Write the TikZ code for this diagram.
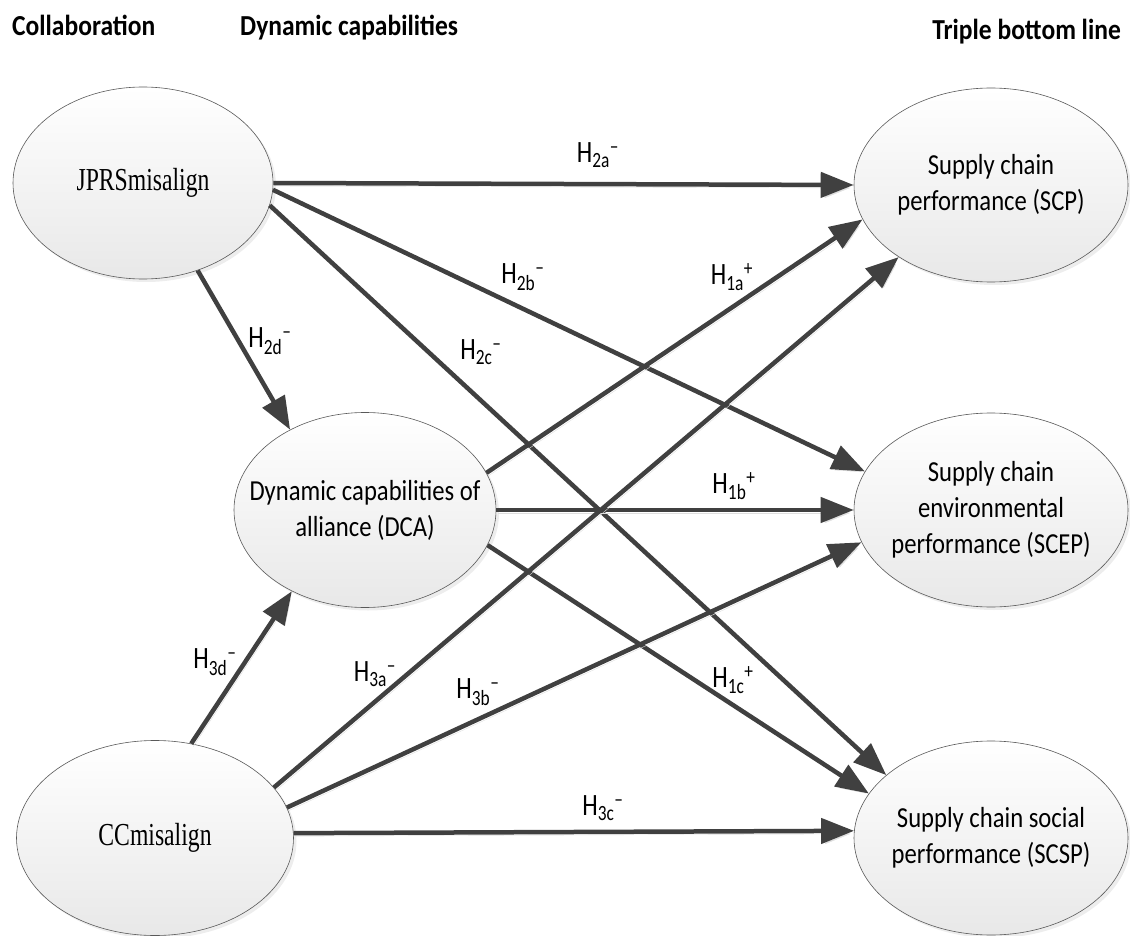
\documentclass[tikz,border=0pt]{standalone}
\usepackage{fontspec}
\setmainfont{Carlito}
\newfontfamily\nodefont[FakeStretch=0.85]{Carlito}
\newfontfamily\headfont[FakeStretch=0.88]{Carlito}
\newfontfamily\labfont[FakeStretch=0.8]{Carlito}
\newfontfamily\timesfont[FakeStretch=0.74]{Liberation Serif}
\usepackage{tikz}
\usetikzlibrary{arrows.meta,shapes,shadows}
\definecolor{linegray}{HTML}{404040}
\newcommand{\hlab}[2]{H\textsubscript{#1}\textsuperscript{#2}}
\tikzset{
    latent/.style={
    ellipse,draw=black!65,line width=0.6pt,top color=white,bottom color=black!9,
    inner xsep=-40pt,inner ysep=-10pt,align=center,
    minimum width=274pt,minimum height=194pt,
    drop shadow={shadow xshift=3pt,shadow yshift=-3pt,fill=black!14},
    font=\nodefont\fontsize{29}{36}\selectfont
    },
    tlatent/.style={
    latent,font=\timesfont\fontsize{32}{38}\selectfont
    },
    header/.style={
    anchor=base west,inner sep=0pt,font=\headfont\bfseries\fontsize{29}{34}\selectfont
    },
    hyp/.style={
    inner sep=0pt,font=\labfont\fontsize{31}{36}\selectfont
    },
    link/.style={
    draw=linegray,line width=4.5pt,-{Triangle[length=33pt,width=25pt]},
    preaction={draw=black!13,transform canvas={shift={(2pt,-3pt)}}}
    },
}
\begin{document}
\begin{tikzpicture}[x=1pt,y=-1pt]
   \useasboundingbox (0,0) rectangle (1130,936);

   \node[header] (hcol) at (12,36) {Collaboration};
   \node[header] (hdyn) at (240,36) {Dynamic capabilities};
   \node[header,anchor=base east] (htbl) at (1121,40) {Triple bottom line};

   \node[tlatent,minimum width=260pt,minimum height=192pt] (JPRS) at (143,183) {JPRSmisalign};
   \node[latent,minimum width=262pt,minimum height=195pt] (DCA) at (365,510) {Dynamic capabilities of\\alliance (DCA)};
   \node[tlatent,minimum width=277pt,minimum height=195pt] (CC) at (155,838) {CCmisalign};

   \node[latent] (SCP) at (991,185) {Supply chain\\performance (SCP)};
   \node[latent] (SCEP) at (991,510) {Supply chain\\environmental\\performance (SCEP)};
   \node[latent] (SCSP) at (991,838) {Supply chain social\\performance (SCSP)};

   \node[hyp] (h2a) at (598,155) {\hlab{2a}{–}};
   \node[hyp] (h2b) at (523,277) {\hlab{2b}{–}};
   \node[hyp] (h2c) at (481,352) {\hlab{2c}{–}};
   \node[hyp] (h2d) at (270,341) {\hlab{2d}{–}};
   \node[hyp] (h1a) at (732,277) {\hlab{1a}{+}};
   \node[hyp] (h1b) at (734,486) {\hlab{1b}{+}};
   \node[hyp] (h1c) at (733,680) {\hlab{1c}{+}};
   \node[hyp] (h3a) at (375,674) {\hlab{3a}{–}};
   \node[hyp] (h3b) at (478,692) {\hlab{3b}{–}};
   \node[hyp] (h3c) at (603,808) {\hlab{3c}{–}};
   \node[hyp] (h3d) at (215,662) {\hlab{3d}{–}};

  \path
    (JPRS.east) edge[link] (SCP.west)
    (JPRS.-3) edge[link] (SCEP.163.6)
    (JPRS.-10) edge[link] (SCSP.149)
    (JPRS.-58) edge[link] (DCA.133)
    (DCA.17.6) edge[link] (SCP.195)
    (DCA.east) edge[link] (SCEP.west)
    (DCA.-16) edge[link] (SCSP.160)
    (CC.69) edge[link] (DCA.228)
    (CC.23) edge[link] (SCP.218)
    (CC.13) edge[link] (SCEP.194)
    (CC.2) edge[link] (SCSP.177);
\end{tikzpicture}
\end{document}
